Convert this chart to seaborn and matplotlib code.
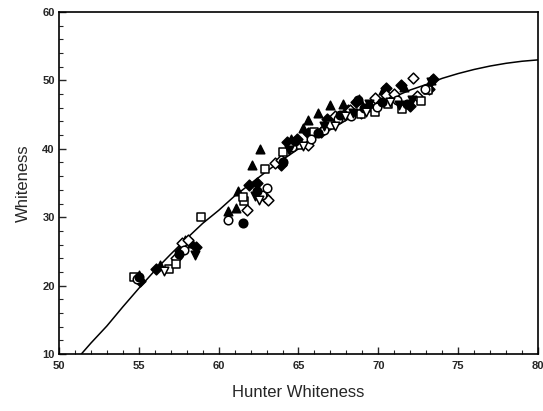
import matplotlib
matplotlib.use("Agg")
import matplotlib.pyplot as plt
from matplotlib.ticker import MultipleLocator
import seaborn as sns
import pandas as pd

# ---- data ----
tri_up_h = [55.0, 56.3, 57.9, 58.3, 60.6, 61.1, 61.2, 62.1, 62.6, 64.5, 65.3, 65.6, 66.2, 67.0, 67.8, 68.8, 70.3, 71.6, 73.3]
tri_up_w = [21.6, 23.0, 26.6, 26.3, 30.9, 31.3, 33.9, 37.6, 39.9, 41.5, 43.0, 44.2, 45.2, 46.4, 46.5, 47.3, 48.6, 49.0, 50.0]

dia_f_h = [55.1, 56.1, 57.6, 58.6, 61.9, 62.4, 63.9, 64.3, 64.9, 65.6, 66.8, 68.1, 68.6, 68.9, 69.4, 70.5, 71.4, 72.0, 73.4, 73.2]
dia_f_w = [20.7, 22.5, 25.0, 25.6, 34.7, 35.0, 37.6, 41.0, 41.5, 42.3, 44.4, 45.6, 46.8, 45.2, 46.3, 48.9, 49.3, 46.3, 50.2, 48.8]

dia_o_h = [57.3, 57.7, 58.1, 61.8, 62.9, 63.1, 63.5, 63.9, 65.6, 66.4, 67.3, 68.2, 69.8, 70.5, 71.0, 72.2, 72.4]
dia_o_w = [24.0, 26.2, 26.7, 31.1, 33.0, 32.5, 37.9, 38.4, 40.6, 42.4, 44.8, 45.6, 47.4, 47.9, 48.0, 50.4, 47.7]

sq_o_h = [54.7, 56.9, 57.3, 58.9, 61.6, 61.5, 62.9, 64.0, 65.0, 66.0, 67.0, 68.9, 69.8, 70.6, 71.5, 72.7, 73.1]
sq_o_w = [21.3, 22.4, 23.2, 30.0, 32.4, 33.0, 37.0, 39.5, 40.5, 42.5, 43.5, 45.1, 45.4, 46.6, 45.8, 47.0, 48.6]

ci_o_h = [54.9, 57.8, 60.6, 62.7, 63.0, 64.6, 65.8, 66.6, 67.5, 68.3, 69.9, 71.2, 72.9]
ci_o_w = [21.0, 25.2, 29.6, 33.3, 34.3, 40.3, 41.4, 42.8, 44.3, 44.8, 46.1, 47.1, 48.7]

ci_f_h = [55.0, 57.5, 61.5, 62.4, 64.0, 64.8, 66.2, 67.6, 68.7, 69.1, 70.2, 71.8]
ci_f_w = [21.2, 24.6, 29.1, 33.8, 38.0, 41.2, 42.3, 44.9, 47.1, 46.0, 46.8, 46.6]

tri_dn_f_h = [58.5, 62.3, 64.4, 66.6, 68.4, 69.4, 71.3, 72.1, 73.3]
tri_dn_f_w = [24.5, 33.1, 39.8, 43.3, 45.3, 46.6, 46.4, 47.2, 49.7]

tri_dn_o_h = [56.6, 62.5, 65.3, 67.3, 67.9, 69.2, 70.7]
tri_dn_o_w = [22.1, 32.5, 40.4, 43.3, 44.8, 45.4, 46.9]

# fitted curve
curve_h = [51.4, 52, 53, 54, 55, 56, 57, 58, 59, 60, 61, 62, 63, 64, 65, 66, 67, 68, 69, 70,
           71, 72, 73, 74, 75, 76, 77, 78, 79, 80]
curve_w = [10.0, 11.6, 14.1, 16.9, 19.6, 22.2, 24.6, 26.9, 29.1, 31.0, 33.1, 34.9, 36.7, 38.4, 40.0,
           41.5, 42.8, 44.2, 45.4, 46.6, 47.6, 48.6, 49.4, 50.3, 51.0, 51.6, 52.1, 52.5, 52.8, 53.0]

x_ticks = [50, 55, 60, 65, 70, 75, 80]
y_ticks = [10, 20, 30, 40, 50, 60]

series = [
    ("tri_up", tri_up_h, tri_up_w, "^", "black"),
    ("dia_f", dia_f_h, dia_f_w, "D", "black"),
    ("dia_o", dia_o_h, dia_o_w, "D", "white"),
    ("sq_o", sq_o_h, sq_o_w, "s", "white"),
    ("ci_o", ci_o_h, ci_o_w, "o", "white"),
    ("ci_f", ci_f_h, ci_f_w, "o", "black"),
    ("tri_dn_f", tri_dn_f_h, tri_dn_f_w, "v", "black"),
    ("tri_dn_o", tri_dn_o_h, tri_dn_o_w, "v", "white"),
]

sns.set_style("white")
plt.rcParams['font.family'] = ['Liberation Sans', 'DejaVu Sans']

fig = plt.figure(figsize=(5.43, 4.11), dpi=100)
ax = fig.add_axes([59/543, 57/411, (538-59)/543, (354-12)/411])

sns.lineplot(x=curve_h, y=curve_w, ax=ax, color="black", linewidth=1.1, sort=True)

for name, h, w, m, fc in series:
    df = pd.DataFrame({"h": h, "w": w})
    size = 30 if m == "D" else 38
    sns.scatterplot(data=df, x="h", y="w", marker=m, color=fc, edgecolor="black",
                    linewidth=1.1, s=size, ax=ax, legend=False, zorder=3)

ax.set_xlim(50, 80)
ax.set_ylim(10, 60)
ax.set_xticks(x_ticks)
ax.set_yticks(y_ticks)
ax.xaxis.set_minor_locator(MultipleLocator(1))
ax.yaxis.set_minor_locator(MultipleLocator(2))
ax.tick_params(which="both", direction="in", bottom=True, left=True, top=False, right=False)
ax.tick_params(which="major", length=5, width=1)
ax.tick_params(which="minor", length=3, width=0.8)
for lab in ax.get_xticklabels() + ax.get_yticklabels():
    lab.set_fontweight("bold")
    lab.set_fontsize(8)
ax.tick_params(axis="x", pad=5)
ax.tick_params(axis="y", pad=3)
for sp in ax.spines.values():
    sp.set_visible(True)
    sp.set_color("black")
    sp.set_linewidth(1.2)
ax.set_xlabel("Hunter Whiteness", fontsize=12, labelpad=10)
ax.set_ylabel("Whiteness", fontsize=12, labelpad=8)

fig.savefig("out.png", dpi=100)
